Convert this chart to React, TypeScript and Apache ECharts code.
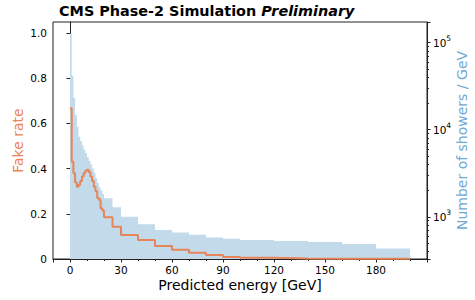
import React, { useEffect, useRef } from "react";
import * as echarts from "echarts";

// Bin edges in GeV (1 GeV bins up to 20, then wider bins)
const binEdges = [
  0, 1, 2, 3, 4, 5, 6, 7, 8, 9, 10, 11, 12, 13, 14, 15, 16, 17, 18, 19, 20,
  25, 30, 40, 50, 60, 70, 80, 90, 100, 120, 140, 160, 180, 200,
];

// Number of showers / GeV per bin (right, log axis)
const showerCounts = [
  128000, 41800, 23300, 14800, 10800, 8320, 7410, 6580, 5920, 5390, 4850, 4370,
  3980, 3580, 3180, 2790, 2440, 2190, 2000, 1820, 1627, 1283, 1000, 818, 705,
  660, 620, 576, 559, 540, 526, 512, 485, 433,
];

// Fake rate per bin (left axis)
const fakeRate = [
  0.667, 0.43, 0.379, 0.338, 0.32, 0.328, 0.345, 0.365, 0.38, 0.39, 0.395,
  0.385, 0.365, 0.345, 0.32, 0.3, 0.27, 0.262, 0.225, 0.215, 0.185, 0.143,
  0.106, 0.084, 0.058, 0.041, 0.028, 0.018, 0.009, 0.005, 0.002, 0.001, 0.001,
  0.001,
];

const titleMain = "CMS Phase-2 Simulation ";
const titleItalic = "Preliminary";
const xTitle = "Predicted energy [GeV]";
const yLeftTitle = "Fake rate";
const yRightTitle = "Number of showers / GeV";

const FONT = "DejaVu Sans";
const ORANGE = "#e8845a";
const BLUE_FILL = "#c3daeb";
const BLUE_TEXT = "#6fabd4";
const AXIS = "#222";

function stepPoints(vals: number[]): number[][] {
  const pts: number[][] = [];
  vals.forEach((v, i) => {
    pts.push([binEdges[i], v]);
    pts.push([binEdges[i + 1], v]);
  });
  return pts;
}

export default function App() {
  const ref = useRef<HTMLDivElement>(null);
  useEffect(() => {
    if (!ref.current) return;
    const chart = echarts.init(ref.current, undefined, { renderer: "svg" });
    chart.setOption({
      animation: false,
      backgroundColor: "#fff",
      title: {
        left: 59,
        top: 4,
        padding: 0,
        text: `{a|${titleMain}}{b|${titleItalic}}`,
        textStyle: {
          rich: {
            a: { fontFamily: FONT, fontSize: 14.4, fontWeight: "bold", color: "#000" },
            b: {
              fontFamily: FONT,
              fontSize: 14.4,
              fontWeight: "bold",
              fontStyle: "italic",
              color: "#000",
            },
          },
        },
      },
      grid: {
        left: 53,
        right: 48,
        top: 22,
        bottom: 41,
        outerBoundsMode: "none",
        containLabel: false,
        show: true,
        borderColor: AXIS,
        borderWidth: 1,
        backgroundColor: "transparent",
      },
      xAxis: {
        type: "value",
        min: -10,
        max: 210,
        minInterval: 30,
        maxInterval: 30,
        splitNumber: 7,
        name: xTitle,
        nameLocation: "middle",
        nameGap: 19,
        nameMoveOverlap: false,
        nameTextStyle: { fontFamily: FONT, fontSize: 14, color: "#000" },
        axisLine: { show: true, onZero: false, lineStyle: { color: AXIS, width: 1 } },
        axisTick: { show: true, length: 3.5, lineStyle: { color: AXIS } },
        minorTick: { show: true, splitNumber: 3, length: 2, lineStyle: { color: AXIS } },
        splitLine: { show: false },
        axisLabel: {
          fontFamily: FONT,
          fontSize: 10.5,
          color: "#000",
          margin: 5,
          showMinLabel: false,
          showMaxLabel: false,
        },
      },
      yAxis: [
        {
          type: "value",
          min: 0,
          max: 1.0487,
          interval: 0.2,
          position: "left",
          name: yLeftTitle,
          nameLocation: "middle",
          nameGap: 28,
          nameMoveOverlap: false,
          nameTextStyle: { fontFamily: FONT, fontSize: 14, color: ORANGE },
          axisLine: { show: true, lineStyle: { color: AXIS, width: 1 } },
          axisTick: { show: true, length: 3.5, lineStyle: { color: AXIS } },
          splitLine: { show: false },
          axisLabel: {
            fontFamily: FONT,
            fontSize: 10.5,
            color: "#000",
            margin: 6,
            showMaxLabel: false,
            formatter: (v: number) => (v === 0 ? "0" : v.toFixed(1)),
          },
        },
        {
          type: "log",
          logBase: 10,
          min: 327,
          max: 173000,
          position: "right",
          name: yRightTitle,
          nameLocation: "middle",
          nameGap: 28,
          nameMoveOverlap: false,
          nameTextStyle: { fontFamily: FONT, fontSize: 14, color: BLUE_TEXT },
          axisLine: { show: true, lineStyle: { color: AXIS, width: 1 } },
          axisTick: { show: true, length: 3.5, lineStyle: { color: AXIS } },
          minorTick: { show: true, splitNumber: 9, length: 2, lineStyle: { color: AXIS } },
          splitLine: { show: false },
          axisLabel: {
            margin: 6,
            showMinLabel: false,
            showMaxLabel: false,
            formatter: (v: number) => {
              const e = Math.round(Math.log10(v));
              return `{b|10}{s|${e}}`;
            },
            rich: {
              b: { fontFamily: FONT, fontSize: 10.5, color: "#000", verticalAlign: "middle", lineHeight: 16 },
              s: { fontFamily: FONT, fontSize: 7.5, color: "#000", verticalAlign: "top", lineHeight: 16 },
            },
          },
        },
      ],
      series: [
        {
          type: "line",
          yAxisIndex: 1,
          data: stepPoints(showerCounts),
          symbol: "none",
          lineStyle: { width: 0, color: BLUE_FILL },
          areaStyle: { color: BLUE_FILL, opacity: 1, origin: "start" },
          z: 1,
        },
        {
          type: "line",
          yAxisIndex: 0,
          data: stepPoints(fakeRate),
          symbol: "none",
          lineStyle: { width: 2, color: ORANGE },
          z: 3,
        },
      ],
    });
    return () => chart.dispose();
  }, []);
  return (
    <div
      ref={ref}
      style={{ position: "absolute", left: 0, top: 0, width: 475, height: 300 }}
    />
  );
}
